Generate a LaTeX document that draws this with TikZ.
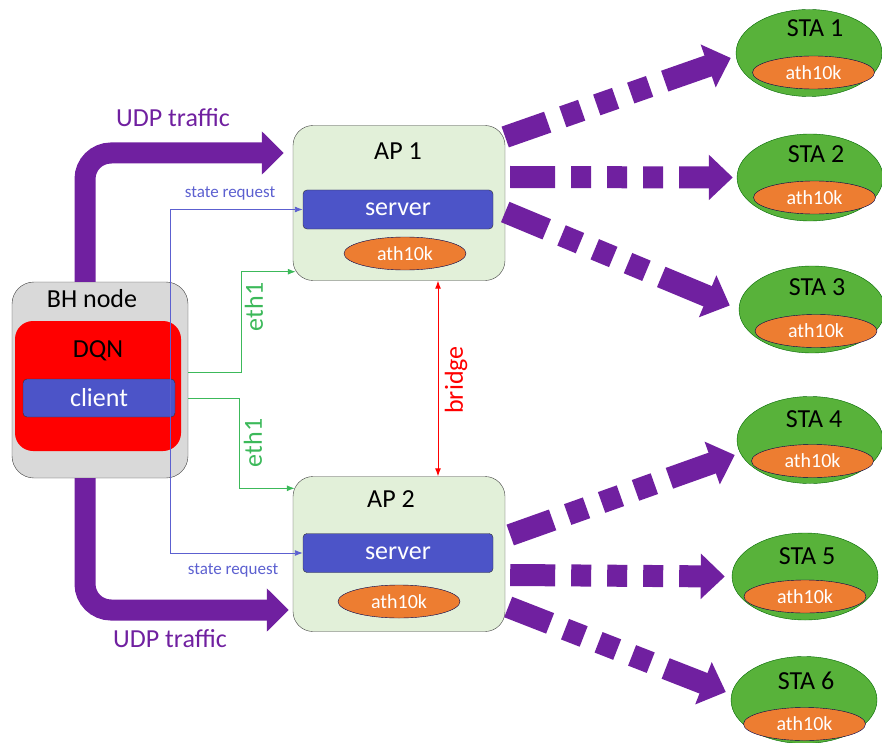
\documentclass[tikz,border=0pt]{standalone}
\usepackage{fontspec}
\setmainfont{Carlito}
\usetikzlibrary{arrows.meta,shapes.geometric}
\definecolor{udppurple}{RGB}{112,32,160}
\definecolor{apgreen}{RGB}{226,240,217}
\definecolor{stagreen}{RGB}{88,178,58}
\definecolor{athorange}{RGB}{237,125,49}
\definecolor{srvblue}{RGB}{76,84,200}
\definecolor{reqblue}{RGB}{92,96,208}
\definecolor{ethgreen}{RGB}{60,185,90}
\definecolor{bhgray}{RGB}{217,217,217}
\definecolor{edgegray}{RGB}{64,64,64}
\begin{document}
\begin{tikzpicture}[x=1pt,y=-1pt,
	bigtext/.style={font=\fontsize{26}{30}\selectfont},
	apbox/.style={draw=edgegray, fill=apgreen, rounded corners=20pt,
		minimum width=212pt, minimum height=155pt, inner sep=0pt},
	srvbox/.style={draw=edgegray!80!black, fill=srvblue, rounded corners=4pt,
		minimum width=190pt, minimum height=39pt, inner sep=0pt, text=white, bigtext},
	ath/.style={ellipse, draw=black!70!blue, fill=athorange, minimum width=122pt,
		minimum height=33pt, inner sep=0pt, text=white, font=\fontsize{20}{24}\selectfont},
	sta/.style={ellipse, draw=black!60!green, fill=stagreen, minimum width=146pt,
		minimum height=87pt, inner sep=0pt},
	udp/.style={draw=udppurple, line width=21pt, rounded corners=26pt,
		-{Triangle[length=22pt,width=42pt]}},
	wifi/.style={draw=udppurple, line width=22pt,
		dash pattern=on 45pt off 16pt on 20pt off 16pt on 20pt off 16pt on 20pt off 16pt on 400pt,
		-{Triangle[length=24pt,width=44pt]}},
	req/.style={draw=reqblue, line width=0.9pt, -{Latex[length=8pt,width=6pt]}},
	eth/.style={draw=ethgreen, line width=1pt, -{Latex[length=8pt,width=6pt]}}]
	\useasboundingbox (0,0) rectangle (882,743);

	\node[apbox] (ap1) at (399,203) {};
	\node[bigtext, anchor=base] (ap1t) at (398,160) {AP 1};
	\node[srvbox] (srv1) at (398,209.5) {server};
	\node[ath] (ath1) at (405,253.5) {ath10k};

	\node[apbox] (ap2) at (399,554) {};
	\node[bigtext, anchor=base] (ap2t) at (391,507) {AP 2};
	\node[srvbox] (srv2) at (398,553) {server};
	\node[ath] (ath2) at (399,601.5) {ath10k};

	\foreach \i/\sx/\sy/\ax/\ay/\tx/\ty in {1/809/53/813.5/72.5/815/37,
		2/810/177.5/814.5/197.5/816/163, 3/812/309.5/816/331/817/295,
		4/810/440/812.5/461/814/427, 5/805/576.5/805/596.5/807/564,
		6/804/700/804.5/724/806/689}{
		\node[sta] (sta\i) at (\sx,\sy) {};
		\node[bigtext, anchor=base] (sta\i t) at (\tx,\ty) {STA \i};
		\node[ath] (sta\i ath) at (\ax,\ay) {ath10k};
	}

	\draw[wifi] ([yshift=66pt]ap1.east) -- ([shift={(-5pt,-5pt)}]sta1.west);
	\draw[wifi] ([shift={(5pt,26pt)}]ap1.east) -- ([xshift=-4pt]sta2.west);
	\draw[wifi] ([yshift=-9pt]ap1.east) -- ([shift={(-9pt,4pt)}]sta3.west);
	\draw[wifi] ([shift={(5pt,19pt)}]ap2.east) -- ([shift={(-2pt,-15pt)}]sta4.west);
	\draw[wifi] ([shift={(5pt,-21pt)}]ap2.east) -- ([xshift=-7pt]sta5.west);
	\draw[wifi] ([shift={(3pt,-53pt)}]ap2.east) -- ([shift={(-5pt,8pt)}]sta6.west);

	\node[draw=edgegray, fill=bhgray, rounded corners=22pt, minimum width=176pt,
		minimum height=196pt, inner sep=0pt] (bh) at (100,380) {};
	\draw[udp] ([xshift=-15pt]bh.north) |- ([shift={(-9pt,50pt)}]ap1.west);
	\draw[udp] ([xshift=-15pt]bh.south) |- ([shift={(-4pt,-56pt)}]ap2.west);
	\node[fill=red, rounded corners=18pt, minimum width=166pt, minimum height=130pt,
		inner sep=0pt] (dqn) at (98,386) {};
	\node[srvbox, minimum width=152pt, minimum height=38pt] (client) at (99,398) {client};
	\node[bigtext, anchor=base] (bht) at (92,307) {BH node};
	\node[bigtext, anchor=base] (dqnt) at (98,357) {DQN};

	\node[bigtext, text=udppurple, anchor=base] (udp1) at (173,127) {UDP traffic};
	\node[bigtext, text=udppurple, anchor=base] (udp2) at (170,647) {UDP traffic};

	\draw[req] ([xshift=-5pt]client.east) |- (srv1.west);
	\draw[req] ([xshift=-5pt]client.east) |- (srv2.west);
	\node[text=reqblue, font=\fontsize{17}{20}\selectfont, anchor=base] (req1) at (230,197) {state request};
	\node[text=reqblue, font=\fontsize{17}{20}\selectfont, anchor=base] (req2) at (233,574) {state request};

	\draw[eth] ([yshift=8pt]bh.east) -- ++(53,0) |- ([shift={(3pt,9pt)}]ap1.south west);
	\draw[eth] ([yshift=-18pt]bh.east) -- ++(51,0) |- ([shift={(2pt,-12pt)}]ap2.north west);
	\node[bigtext, text=ethgreen, rotate=90] (eth1a) at (254,307) {eth1};
	\node[bigtext, text=ethgreen, rotate=90] (eth1b) at (253,443) {eth1};

	\draw[red, line width=1pt, {Latex[length=8pt,width=6pt]}-{Latex[length=8pt,width=6pt]}]
		([xshift=39pt]ap1.south) -- ([xshift=39pt]ap2.north);
	\node[bigtext, text=red, rotate=90] (brg) at (456,380) {bridge};
\end{tikzpicture}
\end{document}
